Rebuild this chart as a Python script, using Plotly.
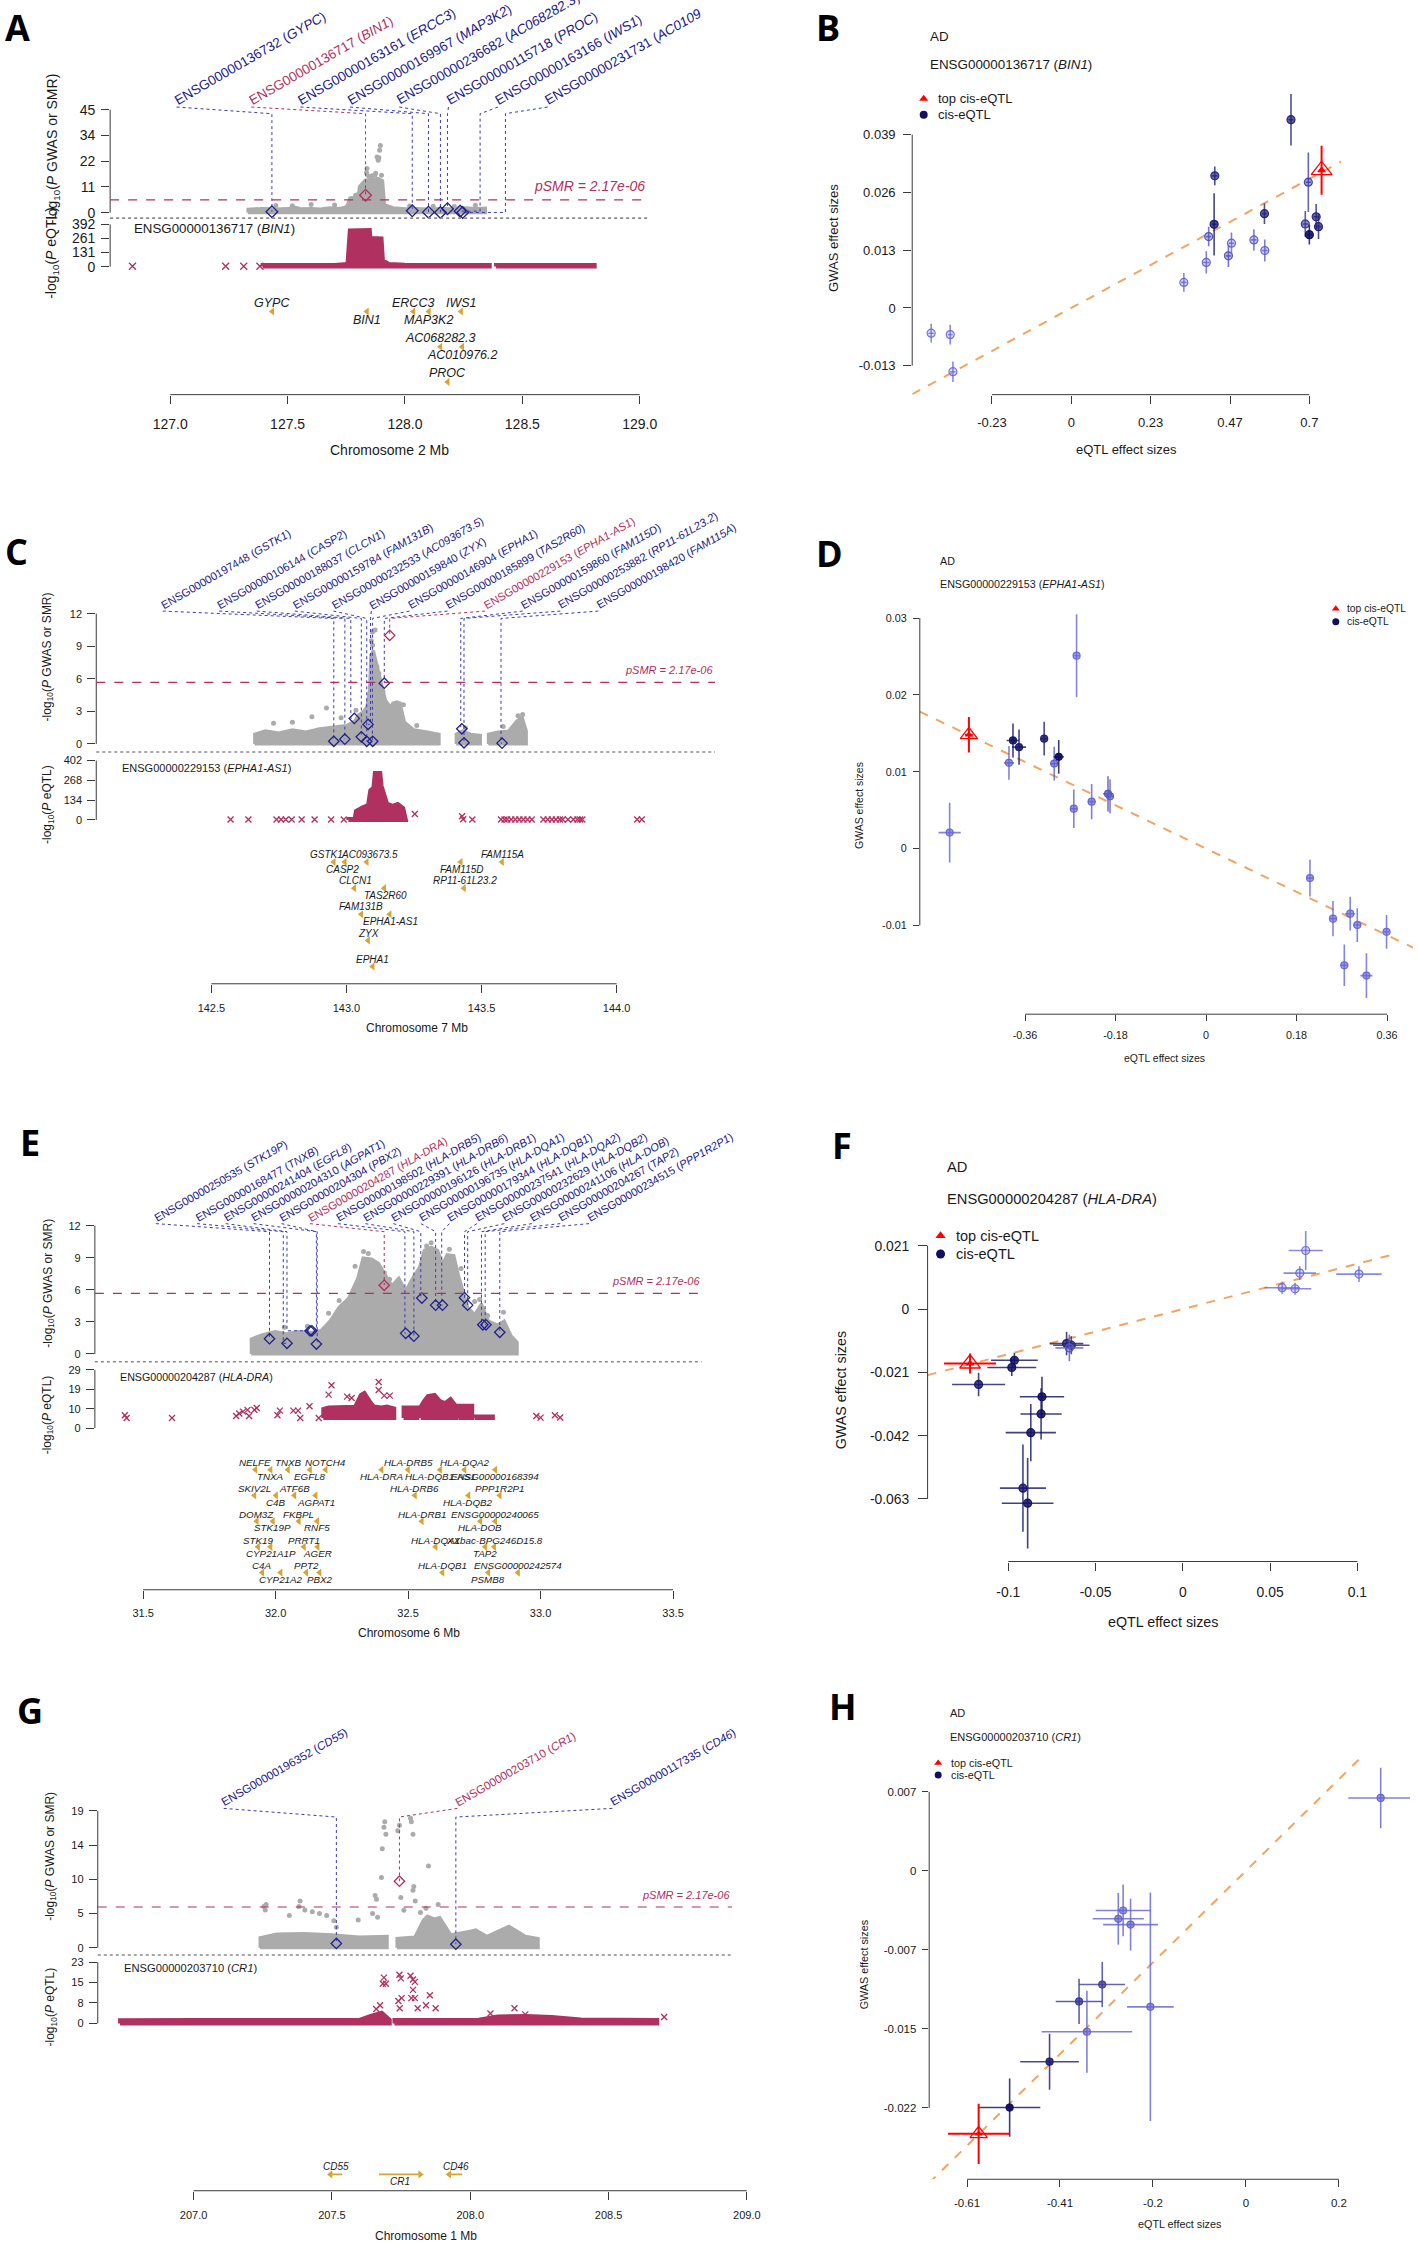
import math
import plotly.graph_objects as go

W, H = 1418, 2246
SANS = "Liberation Sans, Arial, Helvetica, sans-serif"
LETTER = "Open Sans, Liberation Sans, sans-serif"
GRAY = "#ABABAB"
MAROON = "#B03060"
NAVY_TXT = "#20208C"
NAVY_LINE = "#3A3AB8"
GOLD = "#D9A431"
ORANGE = "#F4A460"
TXT = "#1A1A1A"
AXC = "#3A3A3A"

PSMR_THRESHOLD = 2.17e-06

# ======================= DATA =======================
# ---------- Panel A : chromosome 2, BIN1 ----------
A_chr = 2
A_xticks = [127.0, 127.5, 128.0, 128.5, 129.0]
A_gwas_max = 45
A_eqtl_max = 392
A_probe_id = ["ENSG00000136732", "ENSG00000136717", "ENSG00000163161", "ENSG00000169967",
              "ENSG00000236682", "ENSG00000115718", "ENSG00000163166", "ENSG00000231731"]
A_probe_gene = ["GYPC", "BIN1", "ERCC3", "MAP3K2", "AC068282.3", "PROC", "IWS1", "AC010976.2"]
A_probe_line = [127.433, 127.832, 128.031, 128.100, 128.151, 128.181, 128.320, 128.428]
A_probe_pos = [127.433, 127.832, 128.031, 128.100, 128.151, 128.181, 128.235, 128.246]
A_probe_smr = [0.44, 7.67, 0.87, 0.26, 0.13, 1.74, 0.70, 0.13]
A_top_probe = "ENSG00000136717"
A_eqtl_gene = ("ENSG00000136717", "BIN1")
A_gwas_env_x = [127.331, 127.40, 127.45, 127.50, 127.53, 127.56, 127.60, 127.64, 127.68, 127.72,
                127.745, 127.755, 127.765, 127.80, 127.806, 127.83, 127.86, 127.885, 127.905,
                127.913, 127.95, 128.0, 128.05, 128.1, 128.15, 128.2, 128.25, 128.30, 128.343]
A_gwas_env_top = [1.6, 1.9, 1.6, 1.8, 2.5, 1.7, 1.9, 1.6, 2.2, 1.9, 2.4, 3.5, 6.5, 7.0, 11.5,
                  14.2, 14.8, 15.0, 14.0, 3.5, 2.2, 1.7, 1.9, 1.6, 1.9, 1.7, 2.2, 1.8, 2.0]
A_gwas_pts_x = [127.895, 127.892, 127.889, 127.886, 127.881, 127.838, 127.836, 127.872, 127.845,
                127.826, 127.815, 127.80, 127.60, 127.45, 128.30, 128.02, 127.70, 127.86,
                127.875, 127.90, 127.79, 127.52, 128.12, 128.21]
A_gwas_pts_y = [29.4, 27.3, 24.0, 22.9, 24.4, 19.3, 17.5, 16.5, 16.0, 10.5, 9.0, 8.0, 3.6, 3.2,
                3.3, 2.9, 3.4, 16.2, 17.3, 16.4, 7.6, 3.0, 2.8, 2.7]
A_eqtl_env_x = [127.394, 127.70, 127.755, 127.765, 127.80, 127.85, 127.853, 127.90, 127.906,
                127.93, 128.0, 128.361, None, 128.388, 128.808]
A_eqtl_env_top = [14, 14, 25, 335, 340, 340, 265, 262, 60, 25, 16, 14, None, 14, 14]
A_eqtl_pts_x = [126.839, 127.236, 127.313, 127.382]
A_eqtl_pts_y = [3, 3, 3, 3]
A_gene_name = ["GYPC", "BIN1", "ERCC3", "MAP3K2", "IWS1", "AC068282.3", "AC010976.2", "PROC"]
A_gene_pos = [127.435, 127.838, 128.036, 128.102, 128.239, 128.151, 128.244, 128.182]
A_gene_row = [1, 1, 1, 1, 1, 2, 2, 3]
A_gene_side = [1, -1, 1, -1, 1, 1, -1, 1]

# ---------- Panel B : effect sizes, BIN1 ----------
B_x = [-0.412, -0.356, -0.348, 0.331, 0.397, 0.404, 0.420, 0.422, 0.462, 0.471, 0.537, 0.568,
       0.569, 0.646, 0.688, 0.697, 0.700, 0.720, 0.727]
B_y = [-0.00568, -0.0060, -0.01434, 0.00575, 0.01024, 0.01606, 0.01883, 0.02973, 0.01173,
       0.01457, 0.01532, 0.02122, 0.01293, 0.04236, 0.0189, 0.0283, 0.0165, 0.0205, 0.0183]
B_xerr = [0.008, 0.007, 0.008, 0.008, 0.009, 0.008, 0.007, 0.008, 0.008, 0.008, 0.008, 0.007,
          0.008, 0.007, 0.008, 0.008, 0.007, 0.008, 0.008]
B_yerr = [0.0021, 0.0022, 0.0023, 0.0021, 0.0025, 0.0022, 0.0070, 0.0021, 0.0025, 0.0024, 0.0024,
          0.0023, 0.0025, 0.0058, 0.0029, 0.0067, 0.0022, 0.0029, 0.0028]
B_shade = [0.1, 0.1, 0.1, 0.15, 0.2, 0.35, 0.9, 0.75, 0.35, 0.2, 0.25, 0.8, 0.25, 0.8, 0.6, 0.5,
           1.0, 0.75, 0.8]
B_top = (0.736, 0.0310, 0.008, 0.0055)
B_slope = 0.0415
B_xticks = [-0.2333, 0.0, 0.2333, 0.4667, 0.7]
B_xlabels = ["-0.23", "0", "0.23", "0.47", "0.7"]
B_yticks = [-0.013, 0.0, 0.013, 0.026, 0.039]
B_ylabels = ["-0.013", "0", "0.013", "0.026", "0.039"]

# ---------- Panel C : chromosome 7, EPHA1-AS1 ----------
C_chr = 7
C_xticks = [142.5, 143.0, 143.5, 144.0]
C_gwas_max = 12
C_eqtl_max = 402
C_probe_id = ["ENSG00000197448", "ENSG00000106144", "ENSG00000188037", "ENSG00000159784",
              "ENSG00000232533", "ENSG00000159840", "ENSG00000146904", "ENSG00000185899",
              "ENSG00000229153", "ENSG00000159860", "ENSG00000253882", "ENSG00000198420"]
C_probe_gene = ["GSTK1", "CASP2", "CLCN1", "FAM131B", "AC093673.5", "ZYX", "EPHA1", "TAS2R60",
                "EPHA1-AS1", "FAM115D", "RP11-61L23.2", "FAM115A"]
C_probe_line = [142.953, 142.994, 143.016, 143.055, 143.075, 143.089, 143.096, 143.140, 143.160,
                143.423, 143.435, 143.572]
C_probe_pos = [142.953, 142.994, 143.029, 143.055, 143.075, 143.080, 143.097, 143.140, 143.160,
               143.427, 143.435, 143.576]
C_probe_smr = [0.24, 0.44, 2.35, 0.65, 0.24, 1.8, 0.24, 5.6, 10.0, 1.39, 0.1, 0.07]
C_top_probe = "ENSG00000229153"
C_eqtl_gene = ("ENSG00000229153", "EPHA1-AS1")
C_gwas_env_x = [142.66, 142.70, 142.75, 142.80, 142.85, 142.90, 142.93, 142.97, 143.00, 143.03,
                143.045, 143.06, 143.075, 143.085, 143.09, 143.10, 143.11, 143.12, 143.13,
                143.145, 143.16, 143.18, 143.20, 143.215, 143.25, 143.30, 143.343, None,
                143.406, 143.43, 143.46, 143.496, None,
                143.525, 143.56, 143.60, 143.63, 143.65, 143.666]
C_gwas_env_top = [0.9, 1.2, 1.0, 1.3, 1.1, 1.4, 1.5, 1.6, 1.7, 2.1, 2.7, 2.9, 3.4, 5.0, 8.2,
                  8.6, 7.5, 6.5, 5.5, 4.0, 3.5, 3.8, 3.6, 2.0, 1.3, 1.1, 0.9, None,
                  0.9, 1.2, 0.9, 0.8, None,
                  0.9, 1.1, 1.2, 2.1, 2.5, 1.2]
C_gwas_pts_x = [143.106, 143.096, 143.092, 143.097, 143.113, 143.120, 143.126, 143.135, 143.174,
                143.186, 143.197, 143.211, 142.926, 142.872, 143.635, 143.652, 142.80, 143.035,
                142.73, 142.98, 143.26, 143.44, 143.58]
C_gwas_pts_y = [10.5, 10.3, 9.5, 9.1, 7.1, 6.5, 5.4, 4.8, 3.7, 3.8, 3.7, 3.6, 3.3, 2.5, 2.6, 2.7,
                2.0, 3.1, 1.9, 2.4, 1.7, 1.5, 1.6]
C_eqtl_env_x = [143.007, 143.03, 143.035, 143.06, 143.08, 143.088, 143.10, 143.105, 143.125,
                143.13, 143.14, 143.15, 143.17, 143.19, 143.21, 143.22]
C_eqtl_env_top = [6, 8, 60, 85, 100, 200, 220, 318, 318, 230, 170, 110, 95, 108, 80, 6]
C_eqtl_pts_x = [142.571, 142.637, 142.741, 142.758, 142.775, 142.797, 142.834, 142.882, 142.943,
                142.99, 143.253, 143.428, 143.432, 143.466, 143.572, 143.585, 143.595, 143.61,
                143.625, 143.64, 143.655, 143.67, 143.686, 143.729, 143.745, 143.76, 143.775,
                143.79, 143.80, 143.82, 143.84, 143.855, 143.865, 143.873, 144.076, 144.093]
C_eqtl_pts_y = [3, 3, 3, 3, 3, 3, 3, 3, 3, 3, 40, 25, 5, 3, 3, 3, 3, 3, 3, 3, 3, 3, 3, 3, 3, 3, 3,
                3, 3, 3, 3, 3, 3, 3, 3, 3]
C_gene_name = ["GSTK1", "AC093673.5", "CASP2", "FAM115A", "FAM115D", "CLCN1", "TAS2R60",
               "RP11-61L23.2", "FAM131B", "EPHA1-AS1", "ZYX", "EPHA1"]
C_gene_pos = [142.953, 143.075, 142.994, 143.576, 143.423, 143.029, 143.140, 143.435, 143.055,
              143.160, 143.080, 143.097]
C_gene_text_pos = [142.926, 143.084, 142.987, 143.576, 143.427, 143.032, 143.143, 143.437,
                   143.055, 143.163, 143.082, 143.097]
C_gene_row = [1, 1, 1, 1, 1, 2, 2, 2, 3, 3, 4, 5]
C_gene_side = [1, 1, -1, 1, -1, 1, -1, 1, 1, -1, 1, 1]

# ---------- Panel D : effect sizes, EPHA1-AS1 ----------
D_x = [-0.51, -0.392, -0.384, -0.372, -0.322, -0.302, -0.293, -0.2575, -0.263, -0.2275, -0.195,
       -0.191, 0.2067, 0.2525, 0.275, 0.2867, 0.3008, 0.319, 0.359]
D_y = [0.00208, 0.01116, 0.01407, 0.0132, 0.0143, 0.01106, 0.01194, 0.0251, 0.00519, 0.00611,
       0.00713, 0.0068, -0.00384, -0.00912, -0.01519, -0.00847, -0.00995, -0.01653, -0.01083]
D_xerr = [0.022, 0.01, 0.0125, 0.014, 0.008, 0.008, 0.01, 0.006, 0.006, 0.008, 0.01, 0.008,
          0.006, 0.008, 0.008, 0.01, 0.008, 0.012, 0.006]
D_yerr = [0.0039, 0.0022, 0.0022, 0.0023, 0.0022, 0.0022, 0.0022, 0.0054, 0.0025, 0.0023, 0.0023,
          0.0022, 0.0024, 0.0023, 0.0027, 0.0022, 0.0022, 0.0029, 0.0022]
D_shade = [0.15, 0.2, 0.95, 0.9, 0.85, 0.25, 1.0, 0.15, 0.2, 0.2, 0.35, 0.25, 0.15, 0.15, 0.15,
           0.15, 0.15, 0.15, 0.15]
D_top = (-0.4717, 0.01481, 0.008, 0.0023)
D_slope = -0.0313
D_xticks = [-0.36, -0.18, 0.0, 0.18, 0.36]
D_xlabels = ["-0.36", "-0.18", "0", "0.18", "0.36"]
D_yticks = [-0.01, 0.0, 0.01, 0.02, 0.03]
D_ylabels = ["-0.01", "0", "0.01", "0.02", "0.03"]

# ---------- Panel E : chromosome 6, HLA-DRA ----------
E_chr = 6
E_xticks = [31.5, 32.0, 32.5, 33.0, 33.5]
E_gwas_max = 12
E_eqtl_max = 29
E_probe_id = ["ENSG00000250535", "ENSG00000168477", "ENSG00000241404", "ENSG00000204310",
              "ENSG00000204304", "ENSG00000204287", "ENSG00000198502", "ENSG00000229391",
              "ENSG00000196126", "ENSG00000196735", "ENSG00000179344", "ENSG00000237541",
              "ENSG00000232629", "ENSG00000241106", "ENSG00000204267", "ENSG00000234515"]
E_probe_gene = ["STK19P", "TNXB", "EGFL8", "AGPAT1", "PBX2", "HLA-DRA", "HLA-DRB5", "HLA-DRB6",
                "HLA-DRB1", "HLA-DQA1", "HLA-DQB1", "HLA-DQA2", "HLA-DQB2", "HLA-DOB", "TAP2",
                "PPP1R2P1"]
E_probe_line = [31.977, 32.029, 32.043, 32.154, 32.157, 32.410, 32.488, 32.522, 32.548, 32.604,
                32.627, 32.713, 32.725, 32.777, 32.791, 32.846]
E_probe_pos = [31.977, 32.043, 32.130, 32.137, 32.154, 32.410, 32.491, 32.522, 32.552, 32.604,
               32.630, 32.713, 32.725, 32.782, 32.794, 32.846]
E_probe_smr = [1.43, 1.0, 2.17, 2.17, 0.93, 6.43, 1.93, 1.67, 5.23, 4.57, 4.57, 5.27, 4.57, 2.73,
               2.73, 2.03]
E_top_probe = "ENSG00000204287"
E_eqtl_gene = ("ENSG00000204287", "HLA-DRA")
E_gwas_env_x = [31.908, 31.95, 31.998, 32.04, 32.085, 32.13, 32.171, 32.206, 32.24, 32.275,
                32.31, 32.33, 32.362, 32.388, 32.414, 32.439, 32.465, 32.491, 32.517, 32.543,
                32.561, 32.587, 32.612, 32.63, 32.647, 32.673, 32.69, 32.725, 32.751, 32.777,
                32.803, 32.837, 32.863, 32.889, 32.912]
E_gwas_env_top = [1.4, 1.8, 2.1, 1.9, 2.1, 2.0, 2.2, 3.1, 4.4, 5.2, 7.1, 9.0, 8.9, 8.5, 7.4, 6.4,
                  7.1, 5.9, 7.1, 8.1, 9.7, 10.0, 9.7, 8.4, 9.3, 9.2, 7.4, 4.4, 3.7, 4.7, 3.1,
                  2.7, 3.1, 1.7, 1.1]
E_gwas_pts_x = [32.332, 32.35, 32.587, 32.656, 32.751, 32.77, 32.033, 32.12, 32.2, 32.43,
                32.41, 32.70, 32.80, 32.30, 32.57, 32.24, 32.86]
E_gwas_pts_y = [9.6, 9.4, 10.4, 9.8, 4.9, 5.1, 2.5, 2.6, 3.8, 7.0, 7.6, 8.0, 3.6, 8.2, 10.1,
                5.0, 3.9]
E_eqtl_env_x = [32.18, 32.20, 32.25, 32.30, 32.322, 32.335, 32.36, 32.37, 32.40, 32.42, 32.448,
                None, 32.483, 32.535, None,
                32.548, 32.56, 32.575, 32.60, 32.62, 32.64, 32.66, 32.682, None,
                32.69, 32.742, None, 32.751, 32.82]
E_eqtl_env_top = [9.5, 10.3, 10.3, 10.6, 16.5, 17.5, 12.5, 10.8, 10.3, 10.8, 9.8,
                  None, 10.3, 10.3, None,
                  10.8, 13.5, 16.0, 16.5, 13.5, 12.5, 14.5, 10.8, None,
                  11.2, 11.2, None, 5.8, 5.8]
E_eqtl_pts_x = [31.431, 31.438, 31.609, 31.851, 31.863, 31.877, 31.894, 31.900, 31.920, 31.929,
                32.007, 32.016, 32.067, 32.085, 32.093, 32.128, 32.163, 32.200, 32.211, 32.270,
                32.287, 32.389, 32.389, 32.410, 32.431, 32.984, 33.000, 33.054, 33.074]
E_eqtl_pts_y = [6.4, 5.0, 5.0, 6.0, 7.3, 8.2, 9.1, 6.0, 9.1, 10.0, 6.4, 8.7, 8.7, 8.7, 5.0, 10.9,
                5.0, 16.7, 21.4, 15.7, 15.0, 23.0, 19.0, 16.2, 16.2, 6.0, 5.2, 6.4, 5.3]
E_gene_name = ["NELFE", "TNXB", "NOTCH4", "HLA-DRB5", "HLA-DQA2",
               "TNXA", "EGFL8", "HLA-DRA", "HLA-DQB1-AS1", "ENSG00000168394",
               "SKIV2L", "ATF6B", "HLA-DRB6", "PPP1R2P1",
               "C4B", "AGPAT1", "HLA-DQB2",
               "DOM3Z", "FKBPL", "HLA-DRB1", "ENSG00000240065",
               "STK19P", "RNF5", "HLA-DOB",
               "STK19", "PRRT1", "HLA-DQA1", "XXbac-BPG246D15.8",
               "CYP21A1P", "AGER", "TAP2",
               "C4A", "PPT2", "HLA-DQB1", "ENSG00000242574",
               "CYP21A2", "PBX2", "PSMB8"]
E_gene_pos = [31.924, 32.047, 32.189, 32.500, 32.713,
              31.981, 32.130, 32.400, 32.621, 32.829,
              31.920, 32.071, 32.526, 32.846,
              32.002, 32.151, 32.728,
              31.929, 32.088, 32.552, 32.829,
              31.990, 32.157, 32.773,
              31.934, 32.107, 32.604, 32.825,
              31.981, 32.159, 32.791,
              31.950, 32.116, 32.630, 32.915,
              32.019, 32.166, 32.803]
E_gene_row = [1, 1, 1, 1, 1, 1, 1, 1, 1, 1, 2, 2, 2, 2, 2, 2, 2, 3, 3, 3, 3, 3, 3, 3,
              4, 4, 4, 4, 4, 4, 4, 5, 5, 5, 5, 5, 5, 5]
E_gene_side = [1, 1, 1, 1, 1, -1, -1, -1, -1, -1, 1, 1, 1, 1, -1, -1, -1, 1, 1, 1, 1, -1, -1, -1,
               1, 1, 1, 1, -1, -1, -1, 1, 1, 1, 1, -1, -1, -1]

# ---------- Panel F : effect sizes, HLA-DRA ----------
F_x = [-0.117, -0.0965, -0.098, -0.0807, -0.0812, -0.0871, -0.0916, -0.0889, -0.0666, -0.0639,
       -0.065, 0.0569, 0.0643, 0.067, 0.0704, 0.1009]
F_y = [-0.02502, -0.017, -0.0194, -0.0291, -0.0348, -0.041, -0.0594, -0.0644, -0.01147, -0.012,
       -0.0129, 0.00706, 0.00672, 0.0119, 0.0194, 0.01158]
F_xerr = [0.0152, 0.0134, 0.014, 0.0127, 0.0118, 0.0144, 0.0132, 0.0148, 0.0096, 0.0104, 0.008,
          0.0102, 0.0093, 0.0093, 0.0098, 0.013]
F_yerr = [0.0039, 0.0025, 0.0028, 0.0066, 0.0085, 0.0095, 0.0145, 0.015, 0.0039, 0.003, 0.0044,
          0.002, 0.002, 0.0023, 0.0065, 0.0026]
F_shade = [0.9, 0.95, 0.95, 1.0, 0.95, 0.95, 0.9, 0.95, 0.85, 0.75, 0.3, 0.1, 0.1, 0.1, 0.1, 0.1]
F_top = (-0.1219, -0.01808, 0.0149, 0.0033)
F_slope = 0.150
F_xticks = [-0.1, -0.05, 0.0, 0.05, 0.1]
F_xlabels = ["-0.1", "-0.05", "0", "0.05", "0.1"]
F_yticks = [-0.063, -0.042, -0.021, 0.0, 0.021]
F_ylabels = ["-0.063", "-0.042", "-0.021", "0", "0.021"]

# ---------- Panel G : chromosome 1, CR1 ----------
G_chr = 1
G_xticks = [207.0, 207.5, 208.0, 208.5, 209.0]
G_gwas_max = 19
G_eqtl_max = 23
G_probe_id = ["ENSG00000196352", "ENSG00000203710", "ENSG00000117335"]
G_probe_gene = ["CD55", "CR1", "CD46"]
G_probe_line = [207.516, 207.744, 207.948]
G_probe_pos = [207.516, 207.744, 207.948]
G_probe_smr = [0.6, 9.25, 0.5]
G_top_probe = "ENSG00000203710"
G_eqtl_gene = ("ENSG00000203710", "CR1")
G_gwas_env_x = [207.24, 207.30, 207.40, 207.50, 207.60, 207.70, None,
                207.735, 207.80, 207.83, 207.845, 207.87, 207.89, 207.91, 207.93, 208.0, 208.02,
                208.06, 208.12, 208.14, 208.2, 208.246]
G_gwas_env_top = [1.4, 1.9, 2.0, 1.8, 1.5, 1.6, None,
                  1.3, 1.5, 3.8, 4.4, 4.0, 4.2, 3.0, 1.8, 2.3, 2.5, 1.6, 2.6, 3.0, 1.6, 1.3]
G_gwas_pts_x = [207.254, 207.259, 207.262, 207.385, 207.381, 207.402, 207.429, 207.455, 207.481,
                207.507, 207.346, 207.595, 207.647, 207.656, 207.661, 207.665, 207.682, 207.679,
                207.688, 207.691, 207.695, 207.738, 207.744, 207.749, 207.784, 207.787, 207.793,
                207.796, 207.793, 207.801, 207.849, 207.84, 207.884, 207.516, 207.76, 207.82]
G_gwas_pts_y = [5.75, 5.25, 6.0, 6.5, 5.75, 5.25, 5.0, 4.75, 4.5, 3.75, 4.5, 3.85, 4.75, 7.25,
                6.75, 4.25, 13.75, 9.75, 16.75, 17.5, 15.75, 16.25, 17.0, 7.0, 18.0, 17.5, 15.75,
                8.5, 8.0, 6.5, 11.35, 5.5, 6.0, 2.85, 5.2, 4.9]
G_eqtl_env_x = [206.734, 207.0, 207.3, 207.6, 207.64, 207.68, 207.709, None,
                207.726, 207.80, 207.9, 208.03, 208.1, 208.2, 208.295, 208.4, 208.676]
G_eqtl_env_top = [1.2, 1.3, 1.2, 1.3, 2.8, 4.0, 1.3, None,
                  1.3, 1.3, 1.4, 1.4, 2.6, 2.8, 2.4, 1.5, 1.3]
G_eqtl_pts_x = [207.688, 207.695, 207.684, 207.674, 207.66, 207.744, 207.749, 207.784, 207.793,
                207.80, 207.793, 207.787, 207.80, 207.752, 207.74, 207.745, 207.81, 207.84,
                207.854, 207.875, 208.16, 208.073, 208.199, 208.701]
G_eqtl_pts_y = [17.2, 14.9, 14.9, 6.8, 5.4, 18.3, 16.9, 17.9, 16.5, 15.6, 12.6, 9.5, 9.5, 9.5,
                8.4, 5.7, 5.7, 6.8, 10.6, 5.7, 5.7, 3.7, 3.4, 2.4]
G_gene_name = ["CD55", "CR1", "CD46"]
G_gene_start = [207.537, 207.670, 207.971]
G_gene_end = [207.495, 207.819, 207.924]
G_gene_side = [1, -1, 1]

# ---------- Panel H : effect sizes, CR1 ----------
H_x = [-0.5168, -0.4295, -0.365, -0.3143, -0.3478, -0.209, -0.2686, -0.2792, -0.2523, 0.2947]
H_y = [-0.02196, -0.01771, -0.01212, -0.01055, -0.01493, -0.01262, -0.00368, -0.00445, -0.00499,
       0.00676]
H_xerr = [0.067, 0.064, 0.051, 0.05, 0.099, 0.051, 0.06, 0.056, 0.06, 0.071]
H_yerr = [0.0027, 0.0026, 0.0021, 0.0021, 0.0038, 0.0106, 0.0024, 0.0024, 0.0024, 0.0028]
H_shade = [1.0, 0.85, 0.6, 0.55, 0.2, 0.2, 0.2, 0.2, 0.2, 0.2]
H_top = (-0.5846, -0.0244, 0.067, 0.0028)
H_slope = 0.0418
H_xticks = [-0.61, -0.4067, -0.2033, 0.0, 0.2033]
H_xlabels = ["-0.61", "-0.41", "-0.2", "0", "0.2"]
H_yticks = [-0.022, -0.01467, -0.00733, 0.0, 0.00733]
H_ylabels = ["-0.022", "-0.015", "-0.007", "0", "0.007"]

# ======================= HELPERS =======================
layout = dict(width=W, height=H, margin=dict(l=0, r=0, t=0, b=0, pad=0),
              paper_bgcolor="white", plot_bgcolor="rgba(0,0,0,0)", showlegend=False)
traces, shapes, annots = [], [], []
counts = {"x": 0, "y": 0}


def new_axis(kind, props):
    counts[kind] += 1
    n = counts[kind]
    suffix = "" if n == 1 else str(n)
    layout[f"{kind}axis{suffix}"] = props
    return kind + suffix


def PX(p):
    return p / W


def PY(p):
    return 1 - p / H


def lin_map(va, pa, vb, pb):
    return lambda p: va + (p - pa) * (vb - va) / (pb - pa)


def font(size, color=TXT, family=SANS):
    return dict(size=size, color=color, family=family)


def note(x, y, s, size, color=TXT, xanchor="center", yanchor="middle", angle=0, family=SANS):
    annots.append(dict(x=PX(x), y=PY(y), xref="paper", yref="paper", text=s, showarrow=False,
                       font=font(size, color, family), xanchor=xanchor, yanchor=yanchor,
                       textangle=angle))


def segments(xs, ys):
    out, cx, cy = [], [], []
    for x, y in zip(xs, ys):
        if x is None:
            if cx:
                out.append((cx, cy))
            cx, cy = [], []
        else:
            cx.append(x)
            cy.append(y)
    if cx:
        out.append((cx, cy))
    return out


def band(xs, tops, base, color, width, xa, ya):
    for sx, st in segments(xs, tops):
        traces.append(go.Scatter(x=[sx[0]] + sx + [sx[-1], sx[0]], y=[base] + st + [base, base],
                                 mode="lines", fill="toself", fillcolor=color,
                                 line=dict(color=color, width=width), xaxis=xa, yaxis=ya,
                                 hoverinfo="skip"))


def letter(x, y, s):
    note(x, y, f"<b>{s}</b>", 36, "#000000", family=LETTER)


# ======================= LOCUS PANELS =======================
def locus_panel(L, D):
    (va, pa), (vb, pb) = L["xcal"]
    fx = lin_map(va, pa, vb, pb)
    xl, xr = L["xdom"]
    lr = L["line_r"]
    xa = new_axis("x", dict(domain=[PX(xl), PX(xr)], range=[fx(xl), fx(xr)], anchor="free",
                            position=PY(L["xaxis_y"]), showline=False, showgrid=False,
                            zeroline=False, ticks="outside", ticklen=8, tickwidth=1,
                            tickcolor=AXC, tickvals=D["xticks"],
                            ticktext=[f"{v:.1f}" for v in D["xticks"]],
                            tickfont=font(L["tick_fs"]), ticklabelstandoff=L["xstand"]))
    gt, gb = L["gwas_px"]
    gmax = D["gwas_max"]
    fg = lin_map(gmax, gt, 0.0, gb)
    gvals = [gmax * k / 4 for k in range(5)]
    yg = new_axis("y", dict(domain=[PY(gb + 6), PY(gt - 12)], range=[fg(gb + 6), fg(gt - 12)],
                            anchor=xa, showline=False, showgrid=False, zeroline=False,
                            ticks="outside", ticklen=8, tickwidth=1, tickcolor=AXC,
                            tickvals=gvals, ticktext=[str(round(v)) for v in gvals],
                            tickfont=font(L["tick_fs"]), ticklabelstandoff=3))
    et, eb = L["eqtl_px"]
    emax = D["eqtl_max"]
    fe = lin_map(emax, et, 0.0, eb)
    evals = [emax * k / 3 for k in range(4)]
    ye = new_axis("y", dict(domain=[PY(eb + 6), PY(et - 4)], range=[fe(eb + 6), fe(et - 4)],
                            anchor=xa, showline=False, showgrid=False, zeroline=False,
                            ticks="outside", ticklen=8, tickwidth=1, tickcolor=AXC,
                            tickvals=evals, ticktext=[str(round(v)) for v in evals],
                            tickfont=font(L["tick_fs"]), ticklabelstandoff=3))
    tt, tb = L["track_px"]
    yt = new_axis("y", dict(domain=[PY(tb), PY(tt)], range=[tb, tt], anchor=xa, visible=False))

    line = dict(color=AXC, width=1)
    shapes.append(dict(type="line", xref=xa, yref="paper", x0=D["xticks"][0], x1=D["xticks"][-1],
                       y0=PY(L["xaxis_y"]), y1=PY(L["xaxis_y"]), line=line))
    shapes.append(dict(type="line", xref="paper", yref=yg, x0=PX(xl), x1=PX(xl), y0=0, y1=gmax,
                       line=line))
    shapes.append(dict(type="line", xref="paper", yref=ye, x0=PX(xl), x1=PX(xl), y0=0, y1=emax,
                       line=line))

    band(D["gwas_env_x"], D["gwas_env_top"], 0.0, GRAY, 3, xa, yg)
    traces.append(go.Scatter(x=D["gwas_pts_x"], y=D["gwas_pts_y"], mode="markers",
                             marker=dict(size=5, color=GRAY), xaxis=xa, yaxis=yg,
                             cliponaxis=False, hoverinfo="skip"))
    thr = -math.log10(PSMR_THRESHOLD)
    shapes.append(dict(type="line", xref="paper", yref=yg, x0=PX(xl), x1=PX(lr), y0=thr, y1=thr,
                       line=dict(color=MAROON, width=1.2, dash="dash")))
    annots.append(dict(xref="paper", yref=yg, x=PX(lr), y=thr, xanchor="right", yanchor="bottom",
                       yshift=4, showarrow=False, text=f"<i>pSMR = {PSMR_THRESHOLD:.2e}</i>",
                       font=font(L["psmr_fs"], MAROON)))
    shapes.append(dict(type="line", xref="paper", yref="paper", x0=PX(xl), x1=PX(lr),
                       y0=PY(L["sep_y"]), y1=PY(L["sep_y"]),
                       line=dict(color="#8A8A8A", width=1.6, dash="dot")))

    fs = L["label_fs"]
    dpad = 0.28 * fs
    hb = 1.3 * fs + 2
    for i, (pid, gene) in enumerate(zip(D["probe_id"], D["probe_gene"])):
        top = pid == D["top_probe"]
        col = MAROON if top else NAVY_LINE
        lx = L["label_x"][i]
        xs = [fx(lx), D["probe_line"][i], D["probe_line"][i], D["probe_pos"][i]]
        ys = [fg(L["label_y"]), fg(L["conn_top"]), D["probe_smr"][i], D["probe_smr"][i]]
        traces.append(go.Scatter(x=xs, y=ys, mode="lines", line=dict(color=col, width=1, dash="dot"),
                                 xaxis=xa, yaxis=yg, hoverinfo="skip"))
        txt = L.get("label_override", {}).get(i, f"{pid} (<i>{gene}</i>)")
        annots.append(dict(xref="paper", yref="paper", x=PX(lx + 0.5 * dpad - 0.5 * hb),
                           y=PY(L["label_y"] + 0.866 * dpad), xanchor="left", yanchor="bottom",
                           text=txt, textangle=-30, showarrow=False,
                           font=font(fs, MAROON if top else NAVY_TXT)))
    dcol = [MAROON if p == D["top_probe"] else NAVY_TXT for p in D["probe_id"]]
    traces.append(go.Scatter(x=D["probe_pos"], y=D["probe_smr"], mode="markers",
                             marker=dict(symbol="diamond-open", size=L["dsize"], color=dcol,
                                         line=dict(width=1.3, color=dcol)),
                             xaxis=xa, yaxis=yg, cliponaxis=False, hoverinfo="skip"))

    band(D["eqtl_env_x"], D["eqtl_env_top"], D.get("eqtl_base", 0.0), MAROON, 4, xa, ye)
    traces.append(go.Scatter(x=D["eqtl_pts_x"], y=D["eqtl_pts_y"], mode="markers",
                             marker=dict(symbol="x-thin", size=L["xsize"], color=MAROON,
                                         line=dict(width=1.3, color=MAROON)),
                             xaxis=xa, yaxis=ye, cliponaxis=False, hoverinfo="skip"))
    eid, egene = D["eqtl_gene"]
    note(L["eqtl_label"][0], L["eqtl_label"][1], f"{eid} (<i>{egene}</i>)", L["eqtl_fs"],
         xanchor="left")

    if "gene_start" in D:
        ay = L["row1"]
        for name, s, e, side in zip(D["gene_name"], D["gene_start"], D["gene_end"],
                                    D["gene_side"]):
            traces.append(go.Scatter(x=[s, e], y=[ay, ay], mode="lines",
                                     line=dict(color=GOLD, width=1.6), xaxis=xa, yaxis=yt,
                                     hoverinfo="skip"))
            traces.append(go.Scatter(x=[e], y=[ay], mode="markers",
                                     marker=dict(symbol="triangle-right" if e > s else "triangle-left",
                                                 size=7, color=GOLD),
                                     xaxis=xa, yaxis=yt, cliponaxis=False, hoverinfo="skip"))
            annots.append(dict(xref=xa, yref=yt, x=(s + e) / 2, y=ay - side * L["toff"],
                               showarrow=False, text=f"<i>{name}</i>", font=font(L["gene_fs"]),
                               xanchor="center", yanchor="middle"))
    else:
        tx = D.get("gene_text_pos", D["gene_pos"])
        ays = [L["row1"] + (r - 1) * L["row_gap"] for r in D["gene_row"]]
        traces.append(go.Scatter(x=D["gene_pos"], y=ays, mode="markers",
                                 marker=dict(symbol="triangle-left", size=7, color=GOLD),
                                 xaxis=xa, yaxis=yt, cliponaxis=False, hoverinfo="skip"))
        for name, x, ay, side in zip(D["gene_name"], tx, ays, D["gene_side"]):
            annots.append(dict(xref=xa, yref=yt, x=x, y=ay - side * L["toff"], showarrow=False,
                               text=f"<i>{name}</i>", font=font(L["gene_fs"]),
                               xanchor="center", yanchor="middle"))

    note(L["ytitle_x"], L["ytitle_gwas_y"], "-log<sub>10</sub>(<i>P</i> GWAS or SMR)",
         L["title_fs"], angle=-90)
    note(L["ytitle_x"], L["ytitle_eqtl_y"], "-log<sub>10</sub>(<i>P</i> eQTL)", L["title_fs"],
         angle=-90)
    note(L["xtitle"][0], L["xtitle"][1], f"Chromosome {D['chr']} Mb", L["title_fs"])
    letter(L["letter"][0], L["letter"][1], L["name"])


def shade_rgb(s):
    light = (118, 118, 238)
    dark = (12, 12, 92)
    return tuple(int(round(a + (b - a) * s)) for a, b in zip(light, dark))


def scatter_panel(S, D):
    (xv1, xp1), (xv2, xp2) = S["xcal"]
    fx = lin_map(xv1, xp1, xv2, xp2)
    (yv1, yp1), (yv2, yp2) = S["ycal"]
    fy = lin_map(yv1, yp1, yv2, yp2)
    xl, xr = S["xdom"]
    yt_, yb_ = S["ydom"]
    nx, ny = counts["x"] + 1, counts["y"] + 1
    xname = "x" + ("" if nx == 1 else str(nx))
    yname = "y" + ("" if ny == 1 else str(ny))
    new_axis("x", dict(domain=[PX(xl), PX(xr)], range=[fx(xl), fx(xr)], anchor=yname,
                       showline=False, showgrid=False, zeroline=False, ticks="outside",
                       ticklen=S["ticklen"], tickwidth=1, tickcolor=AXC, tickvals=D["xticks"],
                       ticktext=D["xlabels"], tickfont=font(S["tick_fs"]),
                       ticklabelstandoff=S["xstand"]))
    new_axis("y", dict(domain=[PY(yb_), PY(yt_)], range=[fy(yb_), fy(yt_)], anchor=xname,
                       showline=False, showgrid=False, zeroline=False, ticks="outside",
                       ticklen=S["ticklen"], tickwidth=1, tickcolor=AXC, tickvals=D["yticks"],
                       ticktext=D["ylabels"], tickfont=font(S["tick_fs"]),
                       ticklabelstandoff=S["ystand"]))
    line = dict(color=AXC, width=1)
    shapes.append(dict(type="line", xref=xname, yref="paper", x0=D["xticks"][0],
                       x1=D["xticks"][-1], y0=PY(yb_), y1=PY(yb_), line=line))
    shapes.append(dict(type="line", xref="paper", yref=yname, x0=PX(xl), x1=PX(xl),
                       y0=D["yticks"][0], y1=D["yticks"][-1], line=line))
    x0, x1 = fx(xl), fx(xr)
    traces.append(go.Scatter(x=[x0, x1], y=[D["slope"] * x0, D["slope"] * x1], mode="lines",
                             line=dict(color=ORANGE, width=2, dash="dash"), xaxis=xname,
                             yaxis=yname, hoverinfo="skip"))
    fa = S["fill_alpha"]
    for x, y, ex, ey, s in zip(D["x"], D["y"], D["xerr"], D["yerr"], D["shade"]):
        r, g, b = shade_rgb(s)
        a = fa + (1 - fa) * s * 0.85
        traces.append(go.Scatter(
            x=[x], y=[y], mode="markers",
            marker=dict(symbol="circle", size=S["msize"], color=f"rgba({r},{g},{b},{a:.2f})",
                        line=dict(color=f"rgba({r},{g},{b},0.95)", width=1.2)),
            error_x=dict(type="data", array=[ex], color=f"rgba({r},{g},{b},0.8)", thickness=1.6,
                         width=0),
            error_y=dict(type="data", array=[ey], color=f"rgba({r},{g},{b},0.8)", thickness=1.6,
                         width=0),
            xaxis=xname, yaxis=yname, cliponaxis=False, hoverinfo="skip"))
    tx, ty, tex, tey = D["top"]
    traces.append(go.Scatter(x=[tx], y=[ty], mode="markers",
                             marker=dict(symbol="triangle-up", size=S["msize"], color="#FF0000"),
                             error_x=dict(type="data", array=[tex], color="#FF0000", thickness=2,
                                          width=0),
                             error_y=dict(type="data", array=[tey], color="#FF0000", thickness=2,
                                          width=0),
                             xaxis=xname, yaxis=yname, cliponaxis=False, hoverinfo="skip"))
    traces.append(go.Scatter(x=[tx], y=[ty], mode="markers",
                             marker=dict(symbol="triangle-up-open", size=S["tsize"],
                                         color="#FF0000", line=dict(width=1.3, color="#FF0000")),
                             xaxis=xname, yaxis=yname, cliponaxis=False, hoverinfo="skip"))
    fs = S["text_fs"]
    note(S["head"][0], S["head"][1], "AD", fs, xanchor="left")
    note(S["head"][0], S["head"][2], f"{D['probe'][0]} (<i>{D['probe'][1]}</i>)", fs,
         xanchor="left")
    lx, ly1, ly2, ltx = S["legend"]
    traces.append(go.Scatter(x=[fx(lx), fx(lx)], y=[fy(ly1), fy(ly2)], mode="markers",
                             marker=dict(symbol=["triangle-up", "circle"],
                                         size=S["legend_sym"], color=["#FF0000", "#10105E"]),
                             xaxis=xname, yaxis=yname, cliponaxis=False, hoverinfo="skip"))
    note(ltx, ly1, "top cis-eQTL", S["legend_fs"], xanchor="left")
    note(ltx, ly2, "cis-eQTL", S["legend_fs"], xanchor="left")
    note(S["xtitle"][0], S["xtitle"][1], "eQTL effect sizes", S["title_fs"])
    note(S["ytitle"][0], S["ytitle"][1], "GWAS effect sizes", S["title_fs"], angle=-90)
    letter(S["letter"][0], S["letter"][1], S["name"])


# ======================= PANEL LAYOUT (pixels) =======================
LOCUS = [
    (dict(name="A", letter=(18, 24), xcal=((127.0, 170.5), (129.0, 640.6)), xdom=(110.3, 660),
          line_r=648, gwas_px=(106, 209.3), eqtl_px=(221, 263.3), track_px=(285, 388),
          row1=308.3, row_gap=35.3, toff=8.8, xaxis_y=391.7, xstand=9, xtitle=(390, 446.7),
          sep_y=214.7, eqtl_label=(131.7, 224.8), label_y=103.3, conn_top=110,
          label_x=[176.8, 251.7, 300.9, 350.6, 399.8, 449.1, 498.7, 548.4],
          label_override={7: "ENSG00000231731 (<i>AC0109</i>"},
          ytitle_x=52.6, ytitle_gwas_y=146, ytitle_eqtl_y=250, tick_fs=14, title_fs=14,
          label_fs=13.5, eqtl_fs=13.3, gene_fs=12.5, psmr_fs=14, dsize=9, xsize=7),
     dict(chr=A_chr, xticks=A_xticks, gwas_max=A_gwas_max, eqtl_max=A_eqtl_max,
          probe_id=A_probe_id, probe_gene=A_probe_gene, probe_line=A_probe_line,
          probe_pos=A_probe_pos, probe_smr=A_probe_smr, top_probe=A_top_probe,
          eqtl_gene=A_eqtl_gene, gwas_env_x=A_gwas_env_x, gwas_env_top=A_gwas_env_top,
          gwas_pts_x=A_gwas_pts_x, gwas_pts_y=A_gwas_pts_y, eqtl_env_x=A_eqtl_env_x,
          eqtl_env_top=A_eqtl_env_top, eqtl_pts_x=A_eqtl_pts_x, eqtl_pts_y=A_eqtl_pts_y,
          gene_name=A_gene_name, gene_pos=A_gene_pos, gene_row=A_gene_row,
          gene_side=A_gene_side)),
    (dict(name="C", letter=(17, 549), xcal=((142.5, 211.7), (144.0, 617.5)), xdom=(96.4, 716),
          line_r=716, gwas_px=(611.3, 741.9), eqtl_px=(758.6, 818.1), track_px=(840, 978),
          row1=860.3, row_gap=26.2, toff=7.3, xaxis_y=982.4, xstand=6, xtitle=(417.8, 1026.8),
          sep_y=750, eqtl_label=(120.3, 766), label_y=608.7, conn_top=616.1,
          label_x=[163, 219.5, 257.1, 295.2, 333.8, 371.9, 410, 448.1, 485.8, 523.4, 561.1,
                   599.2],
          ytitle_x=48.2, ytitle_gwas_y=655, ytitle_eqtl_y=803, tick_fs=11, title_fs=12,
          label_fs=11.2, eqtl_fs=11, gene_fs=10, psmr_fs=11, dsize=8, xsize=6),
     dict(chr=C_chr, xticks=C_xticks, gwas_max=C_gwas_max, eqtl_max=C_eqtl_max,
          probe_id=C_probe_id, probe_gene=C_probe_gene, probe_line=C_probe_line,
          probe_pos=C_probe_pos, probe_smr=C_probe_smr, top_probe=C_top_probe,
          eqtl_gene=C_eqtl_gene, gwas_env_x=C_gwas_env_x, gwas_env_top=C_gwas_env_top,
          gwas_pts_x=C_gwas_pts_x, gwas_pts_y=C_gwas_pts_y, eqtl_env_x=C_eqtl_env_x,
          eqtl_env_top=C_eqtl_env_top, eqtl_pts_x=C_eqtl_pts_x, eqtl_pts_y=C_eqtl_pts_y,
          gene_name=C_gene_name, gene_pos=C_gene_pos, gene_text_pos=C_gene_text_pos,
          gene_row=C_gene_row, gene_side=C_gene_side)),
    (dict(name="E", letter=(30, 1142), xcal=((31.5, 143.3), (33.5, 674.0)), xdom=(95, 702.5),
          line_r=702.5, gwas_px=(1225, 1353.6), eqtl_px=(1369.6, 1427.9), track_px=(1450, 1588),
          row1=1469.6, row_gap=25.8, toff=6.8, xaxis_y=1590, xstand=5, xtitle=(410, 1633.6),
          sep_y=1361.4, eqtl_label=(118.5, 1376.4), label_y=1222.9, conn_top=1231,
          label_x=[156.1, 197.4, 225.9, 253.9, 281.9, 310.4, 338.4, 365.9, 393.9, 421.5, 450,
                   477.5, 505, 532.6, 561.1, 590],
          ytitle_x=48.2, ytitle_gwas_y=1283, ytitle_eqtl_y=1415, tick_fs=11, title_fs=12,
          label_fs=11.1, eqtl_fs=10.7, gene_fs=9.8, psmr_fs=11, dsize=8, xsize=6),
     dict(chr=E_chr, xticks=E_xticks, gwas_max=E_gwas_max, eqtl_max=E_eqtl_max,
          probe_id=E_probe_id, probe_gene=E_probe_gene, probe_line=E_probe_line,
          probe_pos=E_probe_pos, probe_smr=E_probe_smr, top_probe=E_top_probe,
          eqtl_gene=E_eqtl_gene, gwas_env_x=E_gwas_env_x, gwas_env_top=E_gwas_env_top,
          gwas_pts_x=E_gwas_pts_x, gwas_pts_y=E_gwas_pts_y, eqtl_env_x=E_eqtl_env_x,
          eqtl_env_top=E_eqtl_env_top, eqtl_pts_x=E_eqtl_pts_x, eqtl_pts_y=E_eqtl_pts_y,
          eqtl_base=5.0, gene_name=E_gene_name, gene_pos=E_gene_pos, gene_row=E_gene_row,
          gene_side=E_gene_side)),
    (dict(name="G", letter=(30, 1711), xcal=((207.0, 193.9), (209.0, 747.9)), xdom=(97.9, 760),
          line_r=733, gwas_px=(1811.8, 1949), eqtl_px=(1963.4, 2024.8), track_px=(2150, 2190),
          row1=2176.2, row_gap=20, toff=7.6, xaxis_y=2192.6, xstand=6, xtitle=(426.6, 2237.5),
          sep_y=1956.2, eqtl_label=(122.2, 1968.8), label_y=1809.2, conn_top=1817.9,
          label_x=[224, 458, 613.2],
          ytitle_x=50.9, ytitle_gwas_y=1857, ytitle_eqtl_y=2008, tick_fs=11, title_fs=12,
          label_fs=11.5, eqtl_fs=11.2, gene_fs=10, psmr_fs=11, dsize=8, xsize=6),
     dict(chr=G_chr, xticks=G_xticks, gwas_max=G_gwas_max, eqtl_max=G_eqtl_max,
          probe_id=G_probe_id, probe_gene=G_probe_gene, probe_line=G_probe_line,
          probe_pos=G_probe_pos, probe_smr=G_probe_smr, top_probe=G_top_probe,
          eqtl_gene=G_eqtl_gene, gwas_env_x=G_gwas_env_x, gwas_env_top=G_gwas_env_top,
          gwas_pts_x=G_gwas_pts_x, gwas_pts_y=G_gwas_pts_y, eqtl_env_x=G_eqtl_env_x,
          eqtl_env_top=G_eqtl_env_top, eqtl_pts_x=G_eqtl_pts_x, eqtl_pts_y=G_eqtl_pts_y,
          gene_name=G_gene_name, gene_start=G_gene_start, gene_end=G_gene_end,
          gene_side=G_gene_side)),
]

SCATTER = [
    (dict(name="B", letter=(829, 24), xcal=((0.0, 1072.8), (0.7, 1311.2)),
          ycal=((0.039, 131.0), (-0.013, 362.7)), xdom=(913.5, 1343), ydom=(88.6, 391.7),
          ticklen=8, xstand=8, ystand=5, tick_fs=13, text_fs=13.4, legend_fs=13, legend_sym=8,
          title_fs=13, head=(929.3, 32.3, 61.0), legend=(925, 95, 111, 937.2),
          xtitle=(1128, 446.7), ytitle=(834.7, 235), msize=8, tsize=18, fill_alpha=0.12),
     dict(x=B_x, y=B_y, xerr=B_xerr, yerr=B_yerr, shade=B_shade, top=B_top, slope=B_slope,
          xticks=B_xticks, xlabels=B_xlabels, yticks=B_yticks, ylabels=B_ylabels,
          probe=A_eqtl_gene)),
    (dict(name="D", letter=(831, 551), xcal=((-0.36, 1026.5), (0.36, 1389.0)),
          ycal=((0.03, 615.7), (-0.01, 923.9)), xdom=(921.1, 1415), ydom=(600, 1012.9),
          ticklen=6, xstand=5, ystand=4, tick_fs=10.8, text_fs=10.7, legend_fs=10.3,
          legend_sym=7, title_fs=10.5, head=(939.6, 558.2, 581.4),
          legend=(1337.7, 606.3, 619.3, 1347.0), xtitle=(1166.2, 1056.4), ytitle=(859.5, 803.9),
          msize=7, tsize=15, fill_alpha=0.55),
     dict(x=D_x, y=D_y, xerr=D_xerr, yerr=D_yerr, shade=D_shade, top=D_top, slope=D_slope,
          xticks=D_xticks, xlabels=D_xlabels, yticks=D_yticks, ylabels=D_ylabels,
          probe=C_eqtl_gene)),
    (dict(name="F", letter=(843, 1145), xcal=((-0.1, 1009.7), (0.1, 1359.3)),
          ycal=((0.021, 1245.0), (-0.063, 1499.0)), xdom=(928.9, 1399), ydom=(1226, 1561.7),
          ticklen=8.5, xstand=9, ystand=6, tick_fs=13.9, text_fs=14.7, legend_fs=14.5,
          legend_sym=9, title_fs=14.3, head=(946.6, 1166, 1198.3),
          legend=(941.9, 1235, 1253.3, 954.9), xtitle=(1164.6, 1622.7), ytitle=(842.2, 1390),
          msize=8, tsize=18, fill_alpha=0.15),
     dict(x=F_x, y=F_y, xerr=F_xerr, yerr=F_yerr, shade=F_shade, top=F_top, slope=F_slope,
          xticks=F_xticks, xlabels=F_xlabels, yticks=F_yticks, ylabels=F_ylabels,
          probe=E_eqtl_gene)),
    (dict(name="H", letter=(844, 1707), xcal=((-0.61, 968.4), (0.0, 1247.7)),
          ycal=((0.00733, 1792.6), (-0.022, 2109.6)), xdom=(930.5, 1412), ydom=(1755, 2181.1),
          ticklen=6.5, xstand=6, ystand=3, tick_fs=11.5, text_fs=11, legend_fs=10.8,
          legend_sym=7, title_fs=10.8, head=(948.9, 1713.6, 1737.8),
          legend=(939.5, 1763.8, 1775.7, 950), xtitle=(1181.7, 2225.8), ytitle=(865.6, 1965.2),
          msize=7, tsize=15, fill_alpha=0.55),
     dict(x=H_x, y=H_y, xerr=H_xerr, yerr=H_yerr, shade=H_shade, top=H_top, slope=H_slope,
          xticks=H_xticks, xlabels=H_xlabels, yticks=H_yticks, ylabels=H_ylabels,
          probe=G_eqtl_gene)),
]

for L, D in LOCUS:
    locus_panel(L, D)
for S, D in SCATTER:
    scatter_panel(S, D)

layout["shapes"] = shapes
layout["annotations"] = annots
fig = go.Figure(data=traces, layout=layout)
fig.write_html("out.html",
               config={"displayModeBar": False, "staticPlot": True},
               post_script="document.body.style.margin='0';"
                           "document.body.style.overflow='hidden';")
